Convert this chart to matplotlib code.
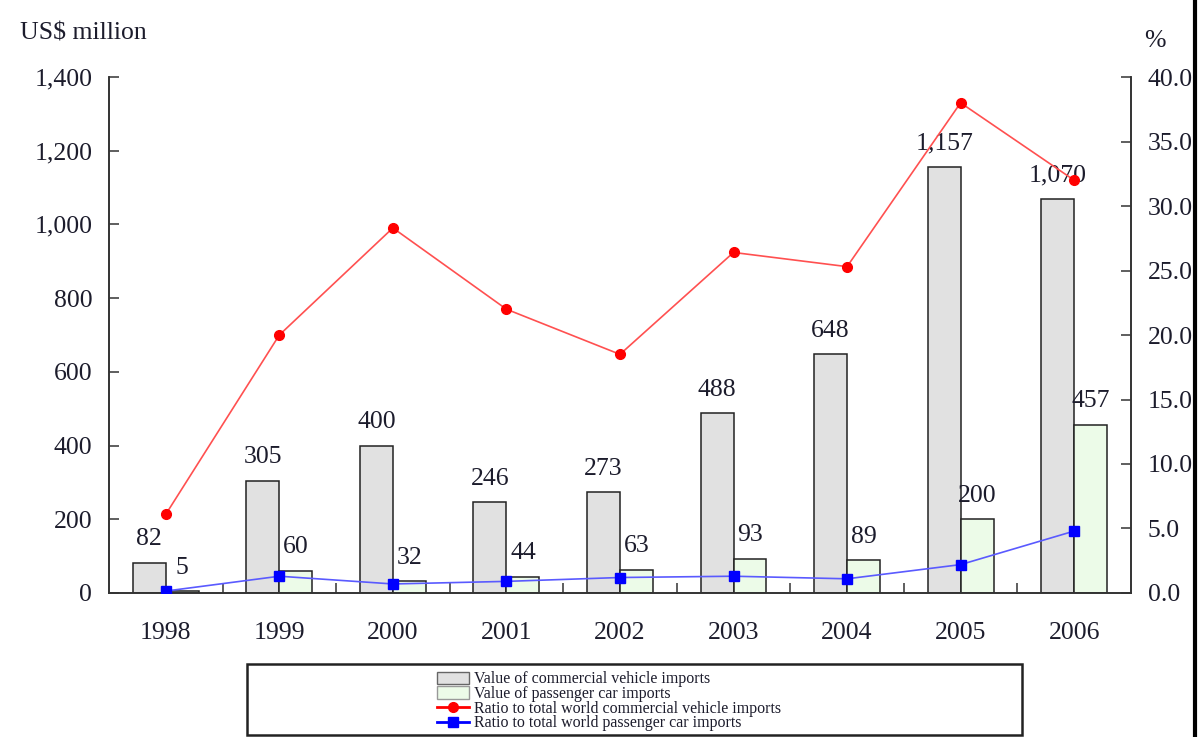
import matplotlib
matplotlib.use("Agg")
import matplotlib.pyplot as plt
import numpy as np
from matplotlib.patches import Rectangle, Patch
from matplotlib.lines import Line2D
from matplotlib.ticker import FuncFormatter, MultipleLocator, FixedLocator

years = ['1998', '1999', '2000', '2001', '2002', '2003', '2004', '2005', '2006']
commercial_value = [82, 305, 400, 246, 273, 488, 648, 1157, 1070]
passenger_value = [5, 60, 32, 44, 63, 93, 89, 200, 457]
commercial_ratio = [6.1, 20.0, 28.3, 22.0, 18.5, 26.4, 25.3, 38.0, 32.0]
passenger_ratio = [0.15, 1.3, 0.7, 0.9, 1.2, 1.3, 1.1, 2.2, 4.8]

legend_labels = ['Value of commercial vehicle imports',
                 'Value of passenger car imports',
                 'Ratio to total world commercial vehicle imports',
                 'Ratio to total world passenger car imports']

plt.rcParams['font.family'] = ['Liberation Serif', 'DejaVu Serif']
TXT = '#1c1c2c'
FS = 18.5

fig = plt.figure(figsize=(11.98, 7.37), dpi=100)
ax = fig.add_axes([0.091, 0.1954, 0.853, 0.7001])

x = np.arange(len(years))
w = 0.29
c_gray = '#e1e1e1'
c_green = '#ecfbe8'
ax.bar(x - w / 2, commercial_value, w, color=c_gray, edgecolor='#222222', linewidth=1.1, zorder=2)
ax.bar(x + w / 2, passenger_value, w, color=c_green, edgecolor='#222222', linewidth=1.1, zorder=2)

for xi, v in zip(x, commercial_value):
    ax.annotate(f'{v:,}', (xi - w / 2, v), xytext=(0, 9), textcoords='offset points',
                ha='center', va='bottom', fontsize=FS, color=TXT, zorder=3)
for xi, v in zip(x, passenger_value):
    ax.annotate(f'{v:,}', (xi + w / 2, v), xytext=(0, 9), textcoords='offset points',
                ha='center', va='bottom', fontsize=FS, color=TXT, zorder=3)

ax.set_xlim(-0.5, len(years) - 0.5)
ax.set_ylim(0, 1400)
ax.yaxis.set_major_locator(MultipleLocator(200))
ax.yaxis.set_major_formatter(FuncFormatter(lambda v, p: f'{int(v):,}'))
ax.set_xticks(x)
ax.set_xticklabels(years)
ax.xaxis.set_minor_locator(FixedLocator(np.arange(0.5, len(years) - 0.5, 1.0)))
ax.tick_params(axis='x', which='major', length=0, pad=21, labelsize=FS, labelcolor=TXT)
ax.tick_params(axis='x', which='minor', direction='in', length=7, width=1.1, color='#333333')
ax.tick_params(axis='y', direction='in', length=7, width=1.1, color='#333333', pad=12,
               labelsize=FS, labelcolor=TXT)
ax.spines['top'].set_visible(False)
for s in ('left', 'bottom', 'right'):
    ax.spines[s].set_color('#333333')
    ax.spines[s].set_linewidth(1.2)

ax2 = ax.twinx()
ax2.set_ylim(0, 40)
ax2.yaxis.set_major_locator(MultipleLocator(5))
ax2.yaxis.set_major_formatter(FuncFormatter(lambda v, p: f'{v:.1f}'))
ax2.tick_params(axis='y', direction='in', length=7, width=1.1, color='#333333', pad=12,
                labelsize=FS, labelcolor=TXT)
ax2.spines['top'].set_visible(False)
for s in ('left', 'bottom', 'right'):
    ax2.spines[s].set_color('#333333')
    ax2.spines[s].set_linewidth(1.2)

ax2.plot(x, commercial_ratio, color='#ff5050', linewidth=1.2, marker='o', markersize=7,
         markerfacecolor='#ff0000', markeredgecolor='#ff0000', zorder=4)
ax2.plot(x, passenger_ratio, color='#5a5aff', linewidth=1.2, marker='s', markersize=7,
         markerfacecolor='#0000ff', markeredgecolor='#0000ff', zorder=4)

fig.text(0.017, 0.955, 'US$ million', fontsize=FS, color=TXT, ha='left', va='center')
fig.text(0.964, 0.944, '%', fontsize=FS, color=TXT, ha='center', va='center')

# legend box spanning below the chart
fig.patches.append(Rectangle((0.206, 0.003), 0.647, 0.096, transform=fig.transFigure,
                             fill=False, edgecolor='#222222', linewidth=1.8))
handles = [Patch(facecolor=c_gray, edgecolor='#666666', linewidth=1.0),
           Patch(facecolor=c_green, edgecolor='#999999', linewidth=1.0),
           Line2D([], [], color='#ff0000', marker='o', markersize=7, linewidth=2),
           Line2D([], [], color='#0000ff', marker='s', markersize=7, linewidth=2)]
fig.legend(handles, legend_labels, loc='upper left', bbox_to_anchor=(0.358, 0.1),
           frameon=False, fontsize=11.5, labelspacing=-0.08, handlelength=2.0,
           handleheight=0.8, handletextpad=0.3, borderpad=0.0, labelcolor=TXT)

fig.add_artist(Line2D([0.9975, 0.9975], [0, 1], transform=fig.transFigure,
                      color='black', linewidth=3))

fig.savefig('out.png', dpi=100)
